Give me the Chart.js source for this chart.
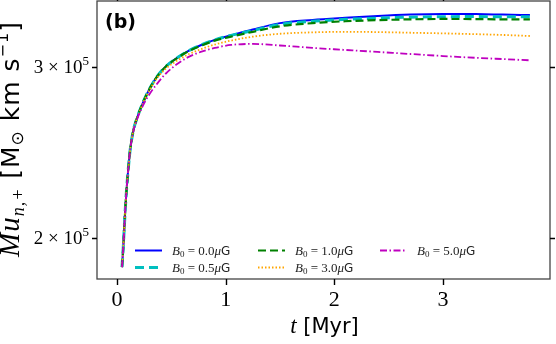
<!DOCTYPE html>
<html>
<head>
<meta charset="utf-8">
<script src="https://cdn.jsdelivr.net/npm/chart.js@4.4.0/dist/chart.umd.min.js"></script>
<style>
  html, body { margin: 0; padding: 0; background: #fff; }
  #wrap { width: 556px; height: 344px; position: relative; }
</style>
</head>
<body>
<div id="wrap"><canvas id="momentumChart"></canvas></div>
<script>
// --- Data (t in Myr, momentum in Msun km/s) ---
const timeMyr = [0.046, 0.058, 0.07, 0.085, 0.10, 0.12, 0.15, 0.19, 0.24, 0.30, 0.37, 0.45, 0.55, 0.65,
                 0.77, 0.90, 1.05, 1.25, 1.5, 1.8, 2.1, 2.4, 2.7, 3.0, 3.3, 3.55, 3.8];

const momB00 = [1.867e5, 1.96e5, 2.08e5, 2.22e5, 2.33e5, 2.46e5, 2.58e5, 2.67e5, 2.76e5, 2.85e5, 2.935e5, 3.005e5, 3.065e5, 3.115e5,
                3.16e5, 3.20e5, 3.235e5, 3.28e5, 3.33e5, 3.355e5, 3.372e5, 3.387e5, 3.398e5, 3.403e5, 3.402e5, 3.398e5, 3.394e5];
const momB05 = [1.867e5, 1.96e5, 2.08e5, 2.22e5, 2.33e5, 2.46e5, 2.58e5, 2.67e5, 2.76e5, 2.85e5, 2.935e5, 3.005e5, 3.065e5, 3.115e5,
                3.16e5, 3.20e5, 3.235e5, 3.272e5, 3.32e5, 3.345e5, 3.36e5, 3.37e5, 3.377e5, 3.381e5, 3.382e5, 3.381e5, 3.38e5];
const momB10 = [1.867e5, 1.96e5, 2.08e5, 2.22e5, 2.33e5, 2.46e5, 2.58e5, 2.67e5, 2.76e5, 2.85e5, 2.935e5, 3.005e5, 3.063e5, 3.112e5,
                3.155e5, 3.195e5, 3.225e5, 3.262e5, 3.305e5, 3.33e5, 3.345e5, 3.354e5, 3.36e5, 3.363e5, 3.362e5, 3.36e5, 3.359e5];
const momB30 = [1.867e5, 1.96e5, 2.08e5, 2.22e5, 2.33e5, 2.46e5, 2.58e5, 2.668e5, 2.755e5, 2.843e5, 2.924e5, 2.99e5, 3.045e5, 3.09e5,
                3.13e5, 3.165e5, 3.195e5, 3.225e5, 3.247e5, 3.258e5, 3.262e5, 3.26e5, 3.255e5, 3.25e5, 3.244e5, 3.238e5, 3.23e5];
const momB50 = [1.867e5, 1.96e5, 2.08e5, 2.22e5, 2.33e5, 2.46e5, 2.575e5, 2.66e5, 2.74e5, 2.815e5, 2.885e5, 2.955e5, 3.02e5, 3.07e5,
                3.11e5, 3.14e5, 3.162e5, 3.17e5, 3.158e5, 3.14e5, 3.125e5, 3.11e5, 3.095e5, 3.08e5, 3.067e5, 3.058e5, 3.049e5];

const fieldLabels = ['0.0', '0.5', '1.0', '3.0', '5.0'];

const xTicks = [0, 1, 2, 3];
const xTickLabels = ['0', '1', '2', '3'];
const yTicks = [2e5, 3e5];
const yTickMantissa = ['2', '3'];
const yTickExponent = ['5', '5'];

// --- Styles ---
const SERIF = '"Liberation Serif", serif';
const SANS = '"DejaVu Sans", sans-serif';
const lineStyles = [
    { color: '#0000ff', width: 2, dash: [] },
    { color: '#00bfbf', width: 3, dash: [9, 5] },
    { color: '#008000', width: 2.2, dash: [8, 4] },
    { color: '#ffa500', width: 1.8, dash: [1.5, 2] },
    { color: '#bf00bf', width: 1.8, dash: [7, 2.5, 1.5, 2.5] }
];
const allSeries = [momB00, momB05, momB10, momB30, momB50];

function toPoints(ys) {
    return timeMyr.map((t, i) => ({ x: t, y: ys[i] }));
}

// draw a row of text pieces with different fonts / offsets
function drawRuns(ctx, runs, x, y, align) {
    let total = 0;
    runs.forEach(r => { ctx.font = r.font; total += ctx.measureText(r.text).width; });
    let cx = x;
    if (align === 'center') cx = x - total / 2;
    if (align === 'right') cx = x - total;
    ctx.textAlign = 'left';
    ctx.textBaseline = 'alphabetic';
    runs.forEach(r => {
        ctx.font = r.font;
        ctx.fillText(r.text, cx, y + (r.dy || 0));
        cx += ctx.measureText(r.text).width;
    });
}

function legendRuns(val) {
    return [
        { text: 'B', font: 'italic 13px ' + SERIF },
        { text: '0', font: '9px ' + SERIF, dy: 2.5 },
        { text: ' = ' + val, font: '13px ' + SERIF },
        { text: 'μ', font: 'italic 13px ' + SERIF },
        { text: 'G', font: '12px ' + SANS }
    ];
}

// --- Frame, ticks, labels, legend ---
const decorPlugin = {
    id: 'decor',
    afterDraw(chart) {
        const ctx = chart.ctx;
        const area = chart.chartArea;
        const xs = chart.scales.x;
        const ys = chart.scales.y;
        ctx.save();

        // frame
        ctx.strokeStyle = '#444';
        ctx.lineWidth = 1.3;
        ctx.strokeRect(area.left, area.top, area.right - area.left, area.bottom - area.top);

        // ticks, outward on all four sides
        ctx.strokeStyle = '#000';
        ctx.lineWidth = 1.4;
        ctx.beginPath();
        xTicks.forEach(v => {
            const px = Math.round(xs.getPixelForValue(v)) + 0.5;
            ctx.moveTo(px, area.bottom); ctx.lineTo(px, area.bottom + 6);
            ctx.moveTo(px, area.top); ctx.lineTo(px, area.top - 6);
        });
        yTicks.forEach(v => {
            const py = Math.round(ys.getPixelForValue(v)) + 0.5;
            ctx.moveTo(area.left, py); ctx.lineTo(area.left - 5, py);
            ctx.moveTo(area.right, py); ctx.lineTo(area.right + 5, py);
        });
        ctx.stroke();

        // tick labels
        ctx.fillStyle = '#000';
        xTicks.forEach((v, i) => {
            drawRuns(ctx, [{ text: xTickLabels[i], font: '22px ' + SERIF }], xs.getPixelForValue(v), area.bottom + 27, 'center');
        });
        yTicks.forEach((v, i) => {
            drawRuns(ctx, [
                { text: yTickMantissa[i] + ' × 10', font: '19px ' + SERIF },
                { text: yTickExponent[i], font: '13px ' + SERIF, dy: -8 }
            ], area.left - 8, ys.getPixelForValue(v) + 6, 'right');
        });

        // axis titles
        drawRuns(ctx, [
            { text: 't', font: 'italic 23px ' + SERIF },
            { text: ' [Myr]', font: '21px ' + SANS }
        ], (area.left + area.right) / 2 + 1, 333, 'center');

        ctx.save();
        ctx.translate(19, 139);
        ctx.rotate(-Math.PI / 2);
        ctx.letterSpacing = '1px';
        drawRuns(ctx, [
            { text: 'Mu', font: 'italic 29px ' + SERIF },
            { text: 'n,+', font: 'italic 18px ' + SERIF, dy: 5 },
            { text: ' [M', font: '25px ' + SANS },
            { text: '⊙', font: '17px ' + SANS, dy: 4 },
            { text: ' km s', font: '25px ' + SANS },
            { text: '−1', font: '16px ' + SANS, dy: -11 },
            { text: ']', font: '25px ' + SANS }
        ], 0, 0, 'center');
        ctx.letterSpacing = '0px';
        ctx.restore();

        // panel tag
        drawRuns(ctx, [{ text: '(b)', font: 'bold 19px ' + SANS }], area.left + 8, 28, 'left');

        // legend: 3 columns, filled column by column
        const colX = [135, 258, 380];
        const rowY = [250, 267];
        chart.data.datasets.forEach((ds, i) => {
            const col = Math.floor(i / 2);
            const row = i % 2;
            const x0 = colX[col];
            const y0 = rowY[row];
            ctx.strokeStyle = ds.borderColor;
            ctx.lineWidth = ds.borderWidth;
            ctx.setLineDash(ds.borderDash);
            ctx.beginPath();
            ctx.moveTo(x0, y0 + 0.5);
            ctx.lineTo(x0 + 27, y0 + 0.5);
            ctx.stroke();
            ctx.setLineDash([]);
            ctx.fillStyle = '#222';
            drawRuns(ctx, legendRuns(fieldLabels[i]), x0 + 37, y0 + 4.5, 'left');
        });

        ctx.restore();
    }
};

document.addEventListener('DOMContentLoaded', function() {

    const datasets = allSeries.map((ys, i) => ({
        label: 'B0 = ' + fieldLabels[i] + 'μG',
        data: toPoints(ys),
        borderColor: lineStyles[i].color,
        backgroundColor: lineStyles[i].color,
        borderWidth: lineStyles[i].width,
        borderDash: lineStyles[i].dash,
        pointRadius: 0,
        cubicInterpolationMode: 'monotone',
        fill: false,
        order: allSeries.length - 1 - i
    }));

    new Chart(document.getElementById('momentumChart'), {
        type: 'line',
        data: { datasets: datasets },
        options: {
            responsive: true,
            maintainAspectRatio: false,
            animation: false,
            layout: { padding: { left: 97, right: 6, top: 1, bottom: 65 } },
            scales: {
                x: { type: 'linear', min: -0.184, max: 3.985, display: false },
                y: { type: 'logarithmic', min: 1.8152e5, max: 3.5094e5, display: false }
            },
            plugins: {
                legend: { display: false },
                tooltip: { enabled: false }
            }
        },
        plugins: [decorPlugin]
    });
});
</script>
</body>
</html>
